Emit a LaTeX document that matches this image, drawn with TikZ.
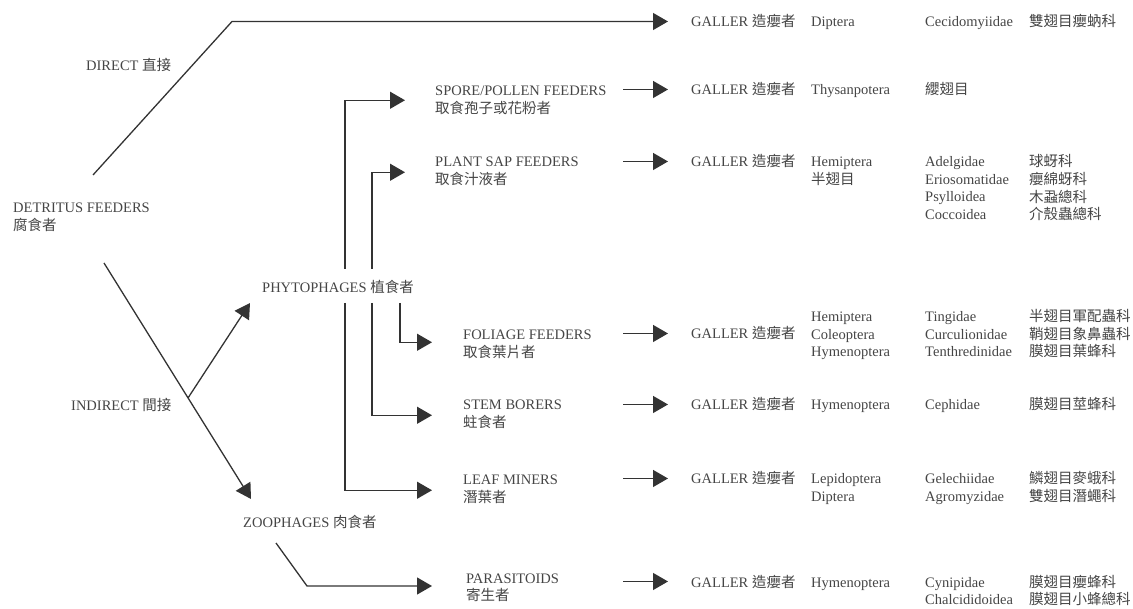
\documentclass[tikz,border=0pt]{standalone}
\usepackage{fontspec}
\setmainfont{Liberation Serif}
\newfontfamily\cjk{Noto Sans CJK TC}
\usetikzlibrary{arrows.meta,calc}
\newcommand\ml[1]{\begin{tabular}[t]{@{}l@{}}#1\end{tabular}}
\definecolor{lncol}{HTML}{333333}
\definecolor{txcol}{HTML}{454545}
\begin{document}
\begin{tikzpicture}[x=1pt,y=-1pt,
  font=\fontsize{14.5}{17.5}\selectfont,
  lab/.style={anchor=base west,inner sep=0pt,text=txcol},
  wire/.style={draw=lncol,line width=1.3pt,line join=miter},
  arr/.style={wire,-{Triangle[length=15pt,width=17pt]}}]
\useasboundingbox (0,0) rectangle (1133,609);
% left labels
\node[lab] (det) at (13,213) {\ml{DETRITUS FEEDERS\\{\cjk 腐食者}}};
\node[lab] (dir) at (86,71) {DIRECT {\cjk 直接}};
\node[lab] (ind) at (71,411) {INDIRECT {\cjk 間接}};
\node[lab] (phy) at (262,293) {PHYTOPHAGES {\cjk 植食者}};
\node[lab] (zoo) at (243,527) {ZOOPHAGES {\cjk 肉食者}};
% feeder types
\node[lab] (spo) at (435,96) {\ml{SPORE/POLLEN FEEDERS\\{\cjk 取食孢子或花粉者}}};
\node[lab] (sap) at (435,167) {\ml{PLANT SAP FEEDERS\\{\cjk 取食汁液者}}};
\node[lab] (fol) at (463,340) {\ml{FOLIAGE FEEDERS\\{\cjk 取食葉片者}}};
\node[lab] (stm) at (463,410) {\ml{STEM BORERS\\{\cjk 蛀食者}}};
\node[lab] (lea) at (463,485) {\ml{LEAF MINERS\\{\cjk 潛葉者}}};
\node[lab] (par) at (466,583) {\ml{PARASITOIDS\\{\cjk 寄生者}}};
% gallers
\node[lab] (g1) at (691,26.5) {GALLER {\cjk 造癭者}};
\node[lab] (g2) at (691,95) {GALLER {\cjk 造癭者}};
\node[lab] (g3) at (691,167) {GALLER {\cjk 造癭者}};
\node[lab] (g4) at (691,339) {GALLER {\cjk 造癭者}};
\node[lab] (g5) at (691,410) {GALLER {\cjk 造癭者}};
\node[lab] (g6) at (691,484) {GALLER {\cjk 造癭者}};
\node[lab] (g7) at (691,587) {GALLER {\cjk 造癭者}};
% orders
\node[lab] (o1) at (811,26.5) {Diptera};
\node[lab] (o2) at (811,95) {Thysanpotera};
\node[lab] (o3) at (811,167) {\ml{Hemiptera\\{\cjk 半翅目}}};
\node[lab] (o4) at (811,322) {\ml{Hemiptera\\Coleoptera\\Hymenoptera}};
\node[lab] (o5) at (811,410) {Hymenoptera};
\node[lab] (o6) at (811,484) {\ml{Lepidoptera\\Diptera}};
\node[lab] (o7) at (811,587) {Hymenoptera};
% families
\node[lab] (f1) at (925,26.5) {Cecidomyiidae};
\node[lab] (f2) at (925,95) {{\cjk 纓翅目}};
\node[lab] (f3) at (925,167) {\ml{Adelgidae\\Eriosomatidae\\Psylloidea\\Coccoidea}};
\node[lab] (f4) at (925,322) {\ml{Tingidae\\Curculionidae\\Tenthredinidae}};
\node[lab] (f5) at (925,410) {Cephidae};
\node[lab] (f6) at (925,484) {\ml{Gelechiidae\\Agromyzidae}};
\node[lab] (f7) at (925,587) {\ml{Cynipidae\\Chalcididoidea}};
% chinese names
\node[lab] (c1) at (1029,26.5) {{\cjk 雙翅目癭蚋科}};
\node[lab] (c3) at (1029,167) {\ml{{\cjk 球蚜科}\\{\cjk 癭綿蚜科}\\{\cjk 木蝨總科}\\{\cjk 介殼蟲總科}}};
\node[lab] (c4) at (1029,322) {\ml{{\cjk 半翅目軍配蟲科}\\{\cjk 鞘翅目象鼻蟲科}\\{\cjk 膜翅目葉蜂科}}};
\node[lab] (c5) at (1029,410) {{\cjk 膜翅目莖蜂科}};
\node[lab] (c6) at (1029,484) {\ml{{\cjk 鱗翅目麥蛾科}\\{\cjk 雙翅目潛蠅科}}};
\node[lab] (c7) at (1029,587) {\ml{{\cjk 膜翅目癭蜂科}\\{\cjk 膜翅目小蜂總科}}};
% coordinates
\coordinate (d0) at (93,175);
\coordinate (d1) at (232,21.5);
\coordinate (i0) at (104,263);
\coordinate (i1) at (251,499);
\coordinate (ib) at (188,398);
\coordinate (ip) at (250,303);
\coordinate (pa) at (345,269);
\coordinate (pb) at (372,269);
\coordinate (pc) at (345,303);
\coordinate (pd) at (372,303);
\coordinate (pe) at (400,303);
\coordinate (z0) at (276,543);
\coordinate (z1) at (307,586);
% connectors
\draw[arr] (d0) -- (d1) -- ($(d1 -| g1.west)+(-23,0)$);
\draw[arr] (i0) -- (i1);
\draw[arr] (ib) -- (ip);
\draw[arr] (pa) |- ($(spo.west)+(-30,-1)$);
\draw[arr] (pb) |- ($(sap.west)+(-30,0)$);
\draw[arr] (pe) |- ($(fol.west)+(-31,-3)$);
\draw[arr] (pd) |- ($(stm.west)+(-31,0)$);
\draw[arr] (pc) |- ($(lea.west)+(-31,0)$);
\draw[arr] (z0) -- (z1) -- ($(z1 -| par.west)+(-34,0)$);
\foreach \g in {g2,g3,g4,g5,g6,g7}
  \draw[arr] ($(\g.west)+(-68,0)$) -- ($(\g.west)+(-23,0)$);
\end{tikzpicture}
\end{document}
